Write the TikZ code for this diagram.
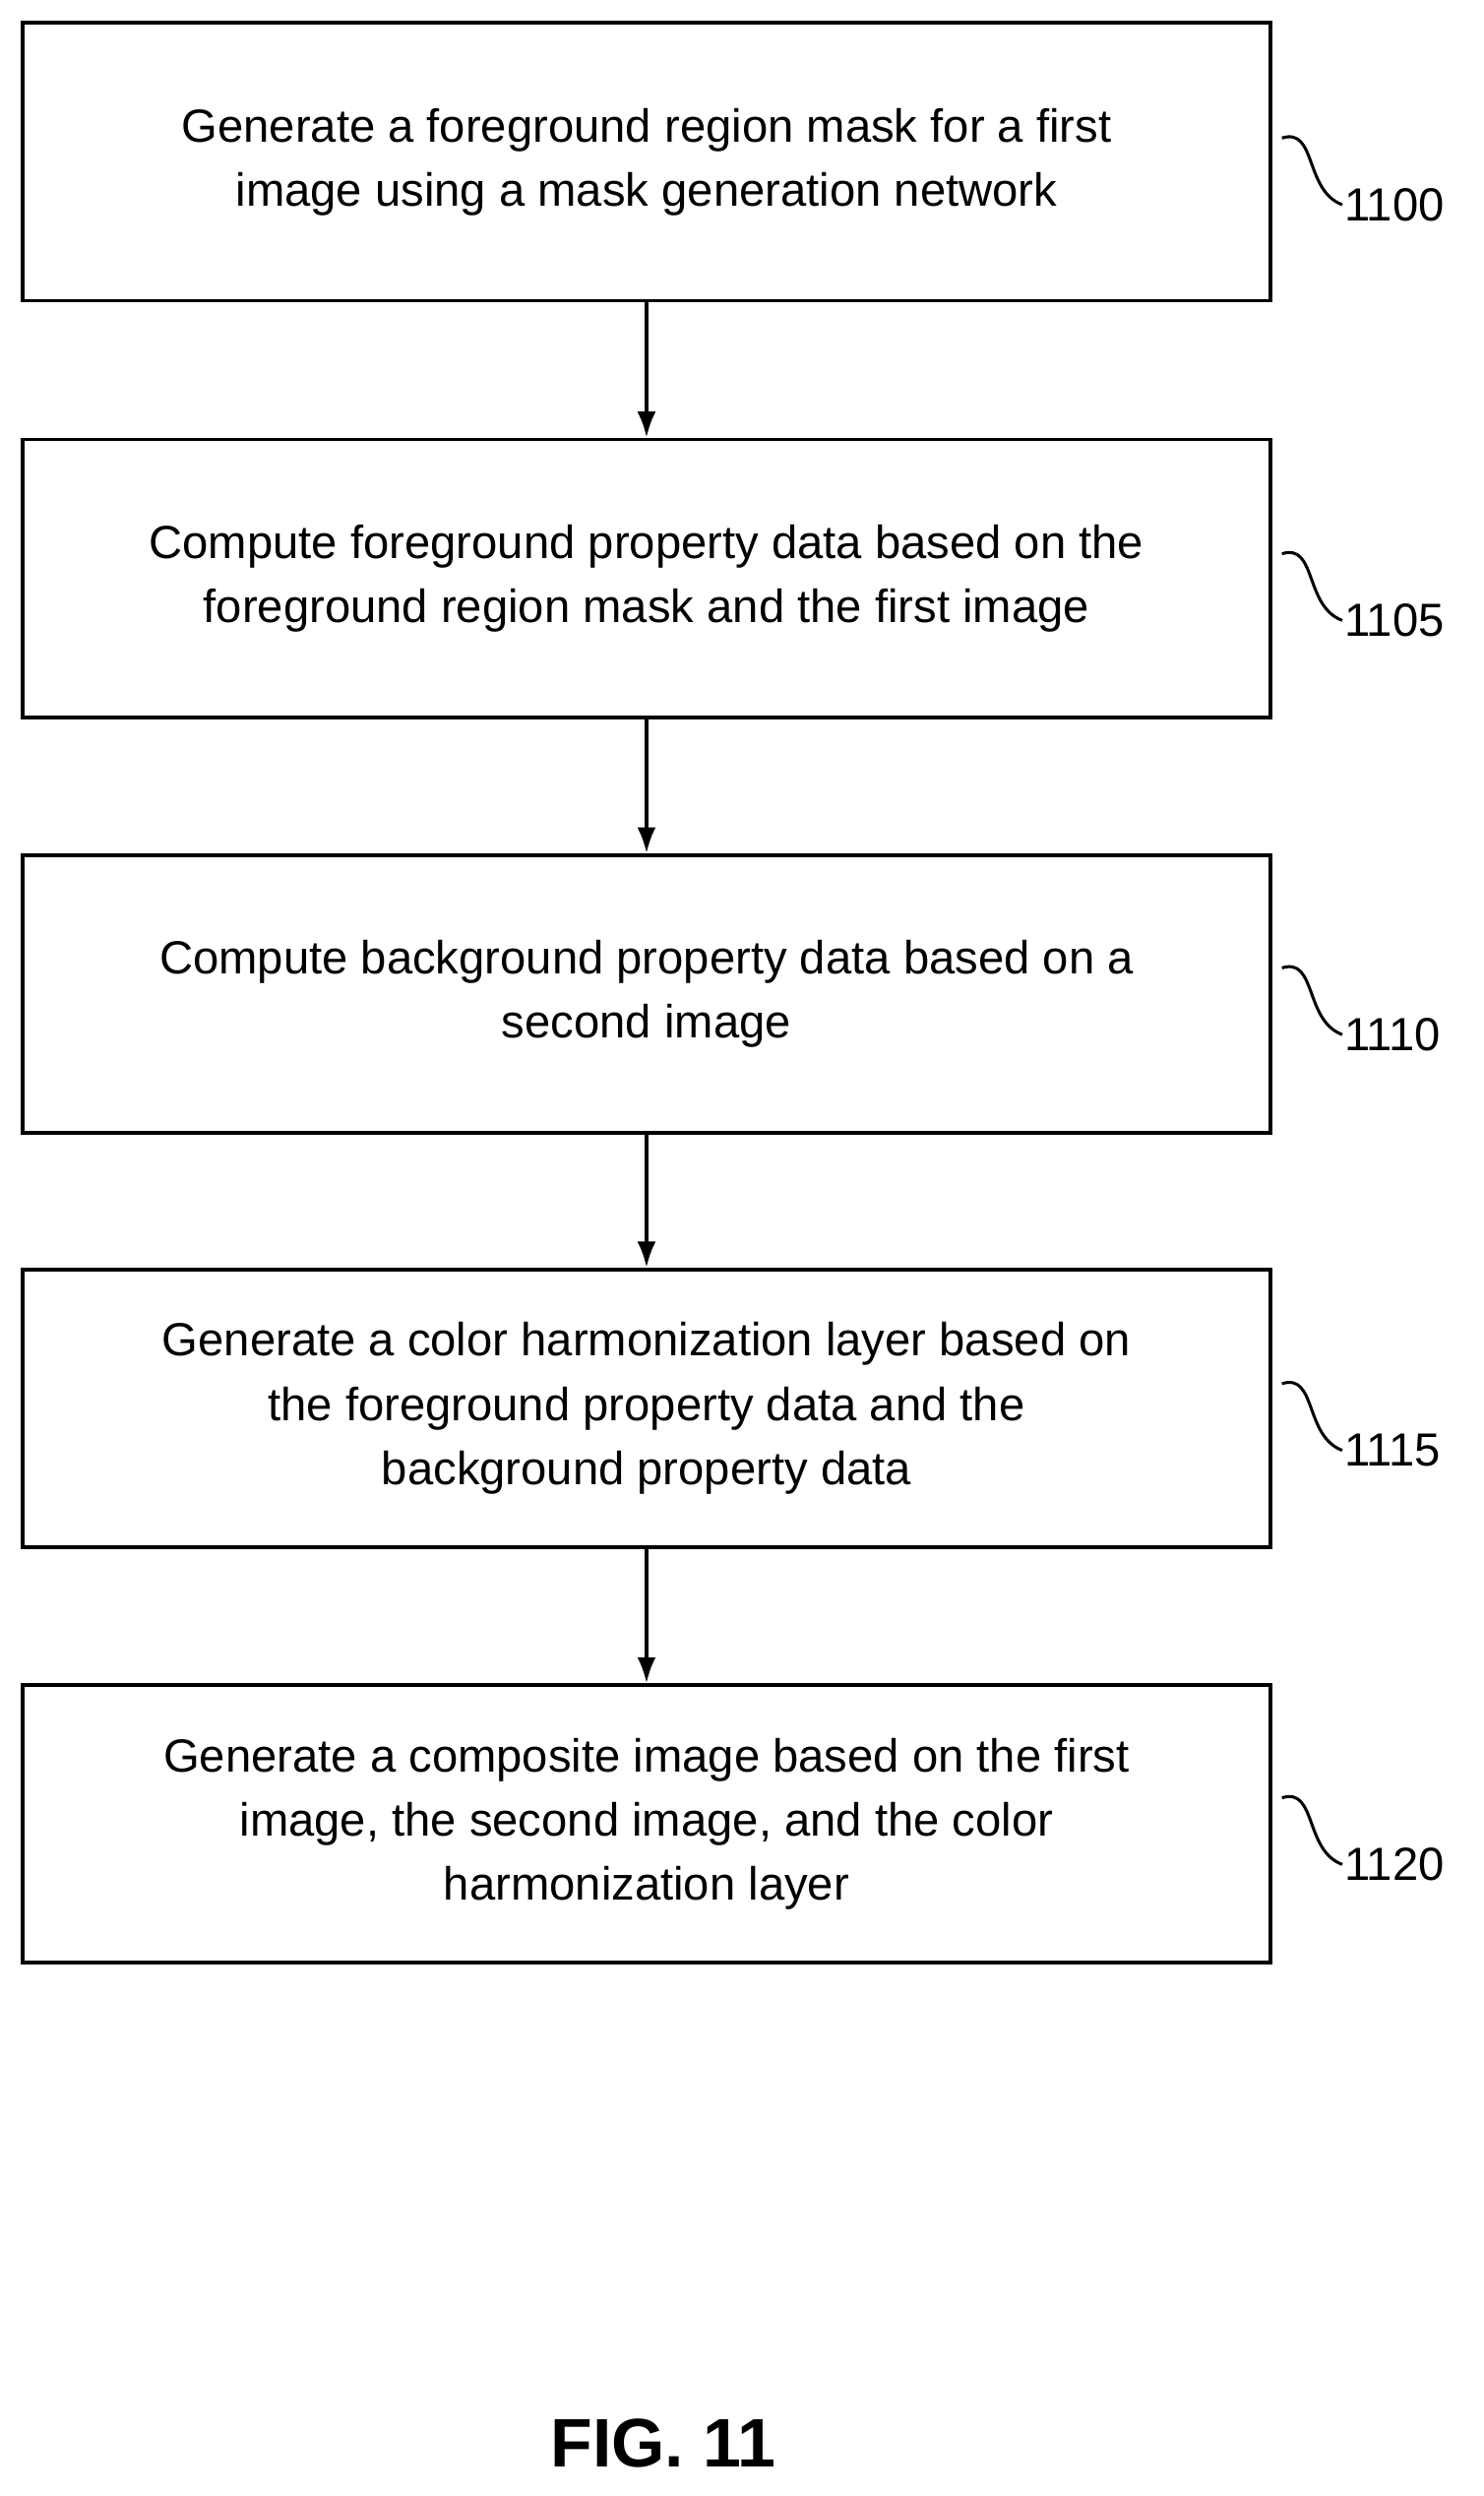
\documentclass[tikz,border=0pt]{standalone}
\usepackage{fontspec}
\setmainfont{Liberation Sans}
\usetikzlibrary{positioning,arrows.meta}
\tikzset{
  stepbox/.style={draw, line width=2pt, minimum width=23.6cm, minimum height=5.25cm,
    align=center, font=\fontsize{25}{34.5}\selectfont},
  ref/.style={font=\fontsize{25}{28}\selectfont, inner sep=1pt},
  flow/.style={-{Latex[length=14pt,width=10pt]}, line width=2pt},
  squig/.style={line width=1.6pt}
}
\begin{document}
\begin{tikzpicture}[x=0.03cm,y=-0.03cm]
    \useasboundingbox (0,0) rectangle (935,1573);
    \node[stepbox] (a) at (407.5,102) {Generate a foreground region mask for a first\\image using a mask generation network};
    \node[stepbox] (b) at (407.5,364.5) {Compute foreground property data based on the\\foreground region mask and the first image};
    \node[stepbox] (c) at (407.5,626.5) {Compute background property data based on a\\second image};
    \node[stepbox] (d) at (407.5,887.5) {Generate a color harmonization layer based on\\the foreground property data and the\\background property data};
    \node[stepbox] (e) at (407.5,1149.5) {Generate a composite image based on the first\\image, the second image, and the color\\harmonization layer};

    \node[ref, anchor=west] (la) at (846,129) {1100};
    \node[ref, anchor=west] (lb) at (846,391) {1105};
    \node[ref, anchor=west] (lc) at (846,652) {1110};
    \node[ref, anchor=west] (ld) at (846,914) {1115};
    \node[ref, anchor=west] (le) at (846,1175) {1120};

    \coordinate (ta) at (808,87);
    \coordinate (tb) at (808,349);
    \coordinate (tc) at (808,610);
    \coordinate (td) at (808,872);
    \coordinate (te) at (808,1133);

    \draw[squig] (ta) .. controls (830,80) and (822,120) .. (la.west);
    \draw[squig] (tb) .. controls (830,342) and (822,382) .. (lb.west);
    \draw[squig] (tc) .. controls (830,603) and (822,643) .. (lc.west);
    \draw[squig] (td) .. controls (830,865) and (822,905) .. (ld.west);
    \draw[squig] (te) .. controls (830,1126) and (822,1166) .. (le.west);

    \draw[flow] (a) -- (b);
    \draw[flow] (b) -- (c);
    \draw[flow] (c) -- (d);
    \draw[flow] (d) -- (e);

    \node[font=\fontsize{37}{40}\selectfont\bfseries] (fig) at (418,1540) {FIG. 11};
\end{tikzpicture}
\end{document}
